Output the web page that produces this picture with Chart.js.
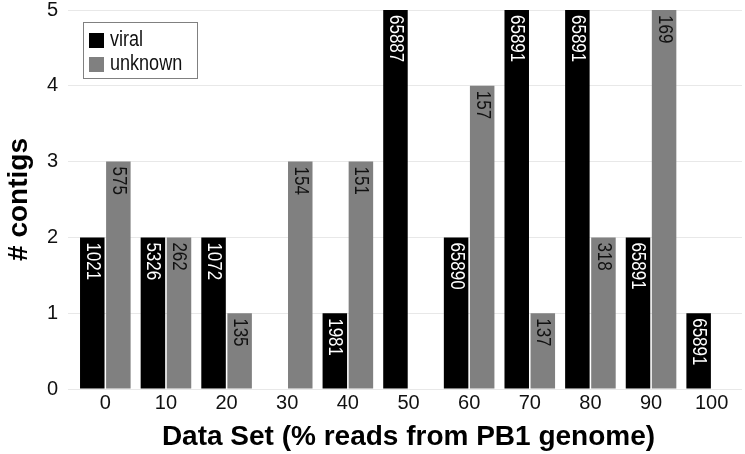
<!DOCTYPE html>
<html>
<head>
<meta charset="utf-8">
<script src="https://cdn.jsdelivr.net/npm/chart.js@4/dist/chart.umd.min.js"></script>
<style>
  html, body { margin: 0; padding: 0; background: #fff; }
  #wrap { width: 745px; height: 454px; }
</style>
</head>
<body>
<div id="wrap"><canvas id="chart"></canvas></div>
<script>
let dataSets = ['0', '10', '20', '30', '40', '50', '60', '70', '80', '90', '100']
let viral = [2, 2, 2, null, 1, 5, 2, 5, 5, 2, 1]
let unknown = [3, 2, 1, 3, 3, null, 4, 1, 2, 5, null]
let viralLabels = ['1021', '5326', '1072', null, '1981', '65887', '65890', '65891', '65891', '65891', '65891']
let unknownLabels = ['575', '262', '135', '154', '151', null, '157', '137', '318', '169', null]

let sans = "'Liberation Sans', Arial, sans-serif"

// numbers written down the bars, read top to bottom (squeezed like a narrow face)
let barText = {
    id: 'barText',
    afterDatasetsDraw(chart) {
        let ctx = chart.ctx
        let texts = [viralLabels, unknownLabels]
        let colors = ['#ffffff', '#111111']
        chart.data.datasets.forEach((ds, i) => {
            let meta = chart.getDatasetMeta(i)
            meta.data.forEach((bar, j) => {
                let t = texts[i][j]
                if (!t || ds.data[j] == null) return
                ctx.save()
                ctx.translate(bar.x, bar.y + 5)
                ctx.rotate(Math.PI / 2)
                ctx.scale(0.85, 1)
                ctx.font = '20px ' + sans
                ctx.fillStyle = colors[i]
                ctx.textAlign = 'left'
                ctx.textBaseline = 'middle'
                ctx.fillText(t, 0, 0)
                ctx.restore()
            })
        })
    }
}

// boxed legend sitting in the top left of the plot
let boxLegend = {
    id: 'boxLegend',
    afterDraw(chart) {
        let ctx = chart.ctx
        let x = 83, y = 22
        ctx.save()
        ctx.fillStyle = '#fff'
        ctx.fillRect(x, y, 114, 56)
        ctx.strokeStyle = '#808080'
        ctx.lineWidth = 1
        ctx.strokeRect(x + 0.5, y + 0.5, 114, 56)
        ctx.textBaseline = 'middle'
        chart.data.datasets.forEach((ds, i) => {
            let cy = y + 18 + i * 24
            ctx.fillStyle = ds.backgroundColor
            ctx.fillRect(x + 6, cy - 7, 15, 15)
            ctx.save()
            ctx.translate(x + 27, cy)
            ctx.scale(0.82, 1)
            ctx.font = '22px ' + sans
            ctx.fillStyle = '#111'
            ctx.fillText(ds.label, 0, 0)
            ctx.restore()
        })
        ctx.restore()
    }
}

let ctx = document.getElementById('chart').getContext('2d')
let myChart = new Chart(ctx, {
    type: 'bar',
    data: {
        labels: dataSets,
        datasets: [
            {
                label: 'viral',
                data: viral,
                backgroundColor: '#000000',
                categoryPercentage: 0.86,
                barPercentage: 0.94
            },
            {
                label: 'unknown',
                data: unknown,
                backgroundColor: '#808080',
                categoryPercentage: 0.86,
                barPercentage: 0.94
            }
        ]
    },
    options: {
        responsive: true,
        maintainAspectRatio: false,
        animation: false,
        layout: { padding: { top: 10, right: 3, left: 0, bottom: 0 } },
        plugins: {
            legend: { display: false },
            tooltip: { enabled: false }
        },
        scales: {
            x: {
                grid: { display: false },
                border: { display: false },
                ticks: { font: { size: 20, family: sans }, color: '#111', padding: -6, maxRotation: 0 },
                title: {
                    display: true,
                    text: 'Data Set (% reads from PB1 genome)',
                    font: { size: 28, weight: 'bold', family: sans },
                    color: '#000',
                    padding: { top: 0, bottom: 0 }
                },
                afterFit(scale) { scale.height = 65 }
            },
            y: {
                min: 0,
                max: 5,
                ticks: { stepSize: 1, font: { size: 20, family: sans }, color: '#111', padding: 10 },
                grid: { color: '#e8e8e8', tickLength: 7, tickColor: '#e8e8e8' },
                border: { display: false },
                title: {
                    display: true,
                    text: '# contigs',
                    font: { size: 28, weight: 'bold', family: sans },
                    color: '#000',
                    padding: { top: 2, bottom: 0 }
                },
                afterFit(scale) {
                    scale.width = 75
                    scale.paddingTop = 0
                    scale.paddingBottom = 0
                }
            }
        }
    },
    plugins: [barText, boxLegend]
})
</script>
</body>
</html>
